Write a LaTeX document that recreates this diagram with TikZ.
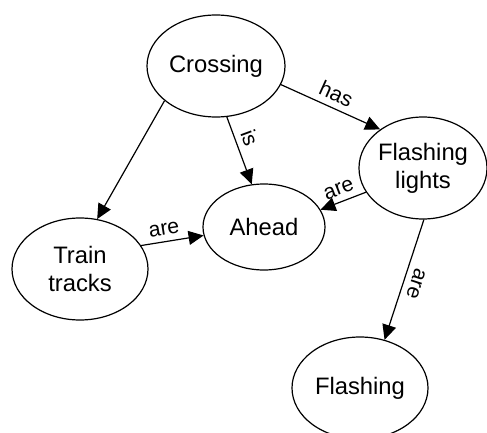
\documentclass[tikz,border=0pt]{standalone}
\usepackage{fontspec}
\setmainfont{Liberation Sans}
\usetikzlibrary{shapes.geometric,arrows.meta}

\begin{document}
\begin{tikzpicture}[x=0.5pt,y=-0.5pt,
  concept/.style={draw, ellipse, line width=0.6pt, inner sep=0pt, align=center,
    font=\fontsize{11.9}{14}\selectfont},
  link/.style={draw, line width=0.6pt, -{Triangle[length=7.5pt,width=7pt]}},
  lbl/.style={font=\fontsize{10.6}{12}\selectfont, sloped, above, inner sep=3pt}]
  \useasboundingbox (0,0) rectangle (487,433);

  % concepts
  \node[concept, minimum width=69pt, minimum height=51pt] (crossing) at (216,66) {Crossing};
  \node[concept, minimum width=64pt, minimum height=51pt] (lights) at (423,168) {Flashing\\lights};
  \node[concept, minimum width=61pt, minimum height=43pt] (ahead) at (264,227) {Ahead};
  \node[concept, minimum width=68pt, minimum height=51pt] (tracks) at (80,269) {Train\\tracks};
  \node[concept, minimum width=68pt, minimum height=51pt] (flashing) at (360,388) {Flashing};

  % links
  \draw[link] (crossing.214) -- (tracks.71);
  \draw[link] (crossing.282) -- node[lbl, pos=0.38] {is} (ahead.106);
  \draw[link] (crossing.344) -- node[lbl] {has} (lights.138);
  \draw[link] (lights.203) -- node[lbl] {are} (ahead.17);
  \draw[link] (tracks.21) -- node[lbl, pos=0.4] {are} (ahead.188);
  \draw[link] (lights.271) -- node[lbl, allow upside down] {are} (flashing.63);
\end{tikzpicture}
\end{document}
